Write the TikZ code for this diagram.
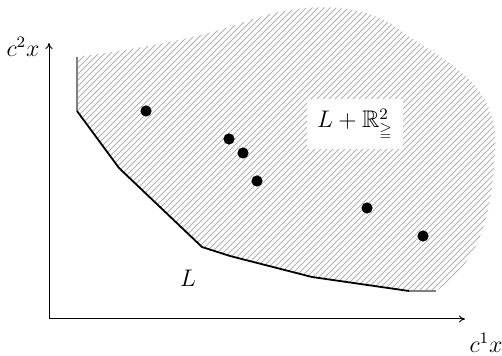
\documentclass[tikz,border=0pt]{standalone}
\usepackage{amssymb}
\usetikzlibrary{patterns,arrows.meta}
\begin{document}
\begin{tikzpicture}[x=0.5pt,y=-0.5pt,font=\large,
  axis/.style={line width=0.5pt,-{To[length=3pt,width=3.5pt]}},
  frontier/.style={line width=0.9pt,black,line join=round},
  tail/.style={line width=0.8pt,gray},
  hatch/.style={pattern=north east lines,pattern color=gray!60},
  pt/.style={circle,fill=black,inner sep=0pt,minimum size=5.6pt},
  lbl/.style={inner sep=0pt}]
\useasboundingbox (0,0) rectangle (502,356);
% hatched region
\fill[hatch] (77,291) -- (77,57)
  .. controls (150,47) and (200,38) .. (250,20)
  .. controls (300,3) and (360,0) .. (400,30)
  .. controls (440,60) and (500,80) .. (495,150)
  .. controls (492,225) and (475,265) .. (436,291) -- cycle;
% white part below the frontier
\fill[white] (76,111) -- (119,168) -- (202,247) -- (230,256) -- (312,277) -- (409,291) -- (440,292) -- (440,330) -- (60,330) -- cycle;
% label box
\node[fill=white,inner sep=5pt] (lab) at (355,124) {$L+\mathbb{R}^2_{\geqq}$};
% axes
\coordinate (o) at (49,319);
\coordinate (ytop) at (49,43);
\coordinate (xend) at (465,319);
\draw[axis] (o) -- (ytop);
\draw[axis] (o) -- (xend);
\node[lbl] (ylab) at (23,47) {$c^2x$};
\node[lbl] (xlab) at (486,343) {$c^1x$};
% frontier
\coordinate (f0) at (77,57);
\coordinate (f1) at (77,111);
\coordinate (f2) at (119,168);
\coordinate (f3) at (202,247);
\coordinate (f4) at (230,256);
\coordinate (f5) at (312,277);
\coordinate (f6) at (409,291);
\coordinate (f7) at (436,291);
\draw[tail] (f0) -- (f1);
\draw[tail] (f6) -- (f7);
\draw[frontier] (f1) -- (f2) -- (f3) -- (f4) -- (f5) -- (f6);
\node[lbl] (L) at (188,278) {$L$};
% points
\node[pt] (p1) at (146,111) {};
\node[pt] (p2) at (229,139) {};
\node[pt] (p3) at (243,153) {};
\node[pt] (p4) at (257,181) {};
\node[pt] (p5) at (367,208) {};
\node[pt] (p6) at (423,236) {};
\end{tikzpicture}
\end{document}
